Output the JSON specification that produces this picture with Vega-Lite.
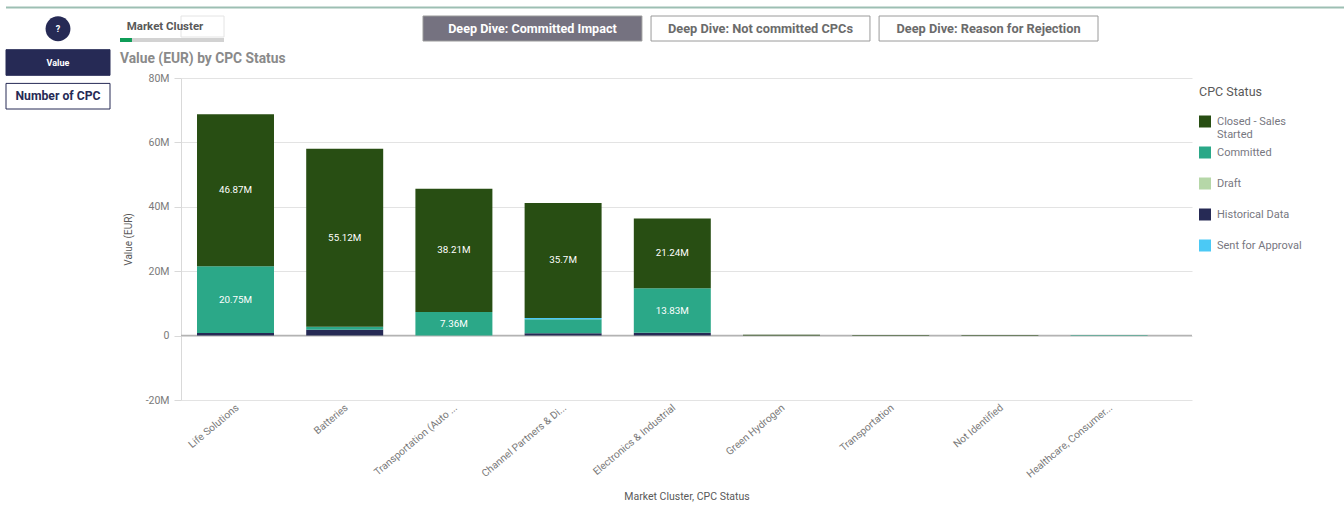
{
 "$schema":"https://vega.github.io/schema/vega-lite/v6.json",
 "background":"white",
 "padding":{"left":5,"top":6,"right":0,"bottom":0},
 "config":{"view":{"stroke":null},"font":"Roboto"},
 "spacing":6,
 "datasets":{
  "bars":[
   {"cluster":"Life Solutions","status":"Historical Data","rank":1,"value":800000},
   {"cluster":"Life Solutions","status":"Committed","rank":2,"value":20750000,"label":"20.75M"},
   {"cluster":"Life Solutions","status":"Closed - Sales Started","rank":5,"value":47200000,"label":"46.87M"},
   {"cluster":"Batteries","status":"Historical Data","rank":1,"value":1800000},
   {"cluster":"Batteries","status":"Committed","rank":2,"value":950000},
   {"cluster":"Batteries","status":"Closed - Sales Started","rank":5,"value":55300000,"label":"55.12M"},
   {"cluster":"Transportation (Auto ...","status":"Committed","rank":2,"value":7360000,"label":"7.36M"},
   {"cluster":"Transportation (Auto ...","status":"Closed - Sales Started","rank":5,"value":38210000,"label":"38.21M"},
   {"cluster":"Channel Partners & Di...","status":"Historical Data","rank":1,"value":700000},
   {"cluster":"Channel Partners & Di...","status":"Committed","rank":2,"value":4400000},
   {"cluster":"Channel Partners & Di...","status":"Sent for Approval","rank":3,"value":400000},
   {"cluster":"Channel Partners & Di...","status":"Closed - Sales Started","rank":5,"value":35700000,"label":"35.7M"},
   {"cluster":"Electronics & Industrial","status":"Historical Data","rank":1,"value":850000},
   {"cluster":"Electronics & Industrial","status":"Committed","rank":2,"value":13830000,"label":"13.83M"},
   {"cluster":"Electronics & Industrial","status":"Closed - Sales Started","rank":5,"value":21700000,"label":"21.24M"},
   {"cluster":"Green Hydrogen","status":"Closed - Sales Started","rank":5,"value":250000},
   {"cluster":"Transportation","status":"Closed - Sales Started","rank":5,"value":200000},
   {"cluster":"Not Identified","status":"Closed - Sales Started","rank":5,"value":150000},
   {"cluster":"Healthcare, Consumer...","status":"Committed","rank":2,"value":150000}
  ]
 },
 "vconcat":[
  {"width":1339,"height":1,"data":{"values":[{"line":0}]},
   "mark":{"type":"rule","stroke":"#9dbfb3","strokeWidth":2},
   "encoding":{"y":{"field":"line","type":"quantitative","axis":null}}},
  {"spacing":9,"hconcat":[
    {"width":104,"height":93,
     "data":{"values":[{"item":"?"},{"item":"Value"},{"item":"Number of CPC"}]},
     "layer":[
      {"transform":[{"filter":"datum.item=='Value'"}],
       "mark":{"type":"rect","stroke":"#262a55","fill":"#262a55"},
       "encoding":{"y":{"field":"item","type":"nominal","axis":null,"scale":{"domain":["?","Value","Number of CPC"],"paddingInner":0.24,"paddingOuter":0}}}},
      {"transform":[{"filter":"datum.item=='Number of CPC'"}],
       "mark":{"type":"rect","stroke":"#262a55","fill":"#ffffff"},
       "encoding":{"y":{"field":"item","type":"nominal","axis":null}}},
      {"transform":[{"filter":"datum.item=='?'"}],
       "mark":{"type":"point","filled":true,"shape":"circle","size":620,"color":"#262a55","opacity":1},
       "encoding":{"y":{"field":"item","type":"nominal","axis":null}}},
      {"transform":[{"filter":"datum.item!='Number of CPC'"}],
       "mark":{"type":"text","fontSize":9,"fontWeight":"bold","color":"#ffffff"},
       "encoding":{"y":{"field":"item","type":"nominal","axis":null},"text":{"field":"item"}}},
      {"transform":[{"filter":"datum.item=='Number of CPC'"}],
       "mark":{"type":"text","fontSize":12.2,"fontWeight":"bold","color":"#262a55"},
       "encoding":{"y":{"field":"item","type":"nominal","axis":null},"text":{"field":"item"}}}
     ]},
    {"spacing":10,"vconcat":[
      {"spacing":137,"hconcat":[
        {"spacing":0,"vconcat":[
          {"width":104,"height":21,
           "data":{"values":[{"name":"Market Cluster"}]},
           "layer":[
            {"mark":{"type":"rect","fill":"#ffffff","stroke":"#e4e4e4","xOffset":-61,"x2Offset":-61},
             "encoding":{"y":{"field":"name","type":"nominal","axis":null,"scale":{"paddingInner":0,"paddingOuter":0}}}},
            {"mark":{"type":"text","fontSize":11.5,"fontWeight":"bold","color":"#595959","xOffset":-68},
             "encoding":{"text":{"field":"name"}}}
           ]},
          {"width":104,"height":4,
           "data":{"values":[{"name":"Market Cluster","all":1,"selected":0.115}]},
           "layer":[
            {"mark":{"type":"bar","fill":"#d2d2d2","xOffset":-61,"x2Offset":-61},
             "encoding":{"x":{"field":"all","type":"quantitative","axis":null,"scale":{"domain":[0,1]}},
              "y":{"field":"name","type":"nominal","axis":null,"scale":{"paddingInner":0,"paddingOuter":0}}}},
            {"mark":{"type":"bar","fill":"#0f9d58","xOffset":-61,"x2Offset":-61},
             "encoding":{"x":{"field":"selected","type":"quantitative","axis":null},
              "y":{"field":"name","type":"nominal","axis":null}}}
           ]}
        ]},
        {"width":675,"height":25,
         "data":{"values":[{"name":"Deep Dive: Committed Impact","active":"yes"},{"name":"Deep Dive: Not committed CPCs","active":"no"},{"name":"Deep Dive: Reason for Rejection","active":"no"}]},
         "layer":[
          {"transform":[{"filter":"datum.active=='yes'"}],
           "mark":{"type":"rect","stroke":"#9a9a9a","fill":"#757280"},
           "encoding":{"x":{"field":"name","type":"nominal","axis":null,"scale":{"domain":["Deep Dive: Committed Impact","Deep Dive: Not committed CPCs","Deep Dive: Reason for Rejection"],"paddingInner":0.04,"paddingOuter":0}}}},
          {"transform":[{"filter":"datum.active=='no'"}],
           "mark":{"type":"rect","stroke":"#9a9a9a","fill":"#ffffff"},
           "encoding":{"x":{"field":"name","type":"nominal","axis":null}}},
          {"transform":[{"filter":"datum.active=='yes'"}],
           "mark":{"type":"text","fontSize":12.6,"fontWeight":"bold","color":"#ffffff"},
           "encoding":{"x":{"field":"name","type":"nominal","axis":null},"text":{"field":"name"}}},
          {"transform":[{"filter":"datum.active=='no'"}],
           "mark":{"type":"text","fontSize":12.8,"fontWeight":"bold","color":"#6b6b6b"},
           "encoding":{"x":{"field":"name","type":"nominal","axis":null},"text":{"field":"name"}}}
         ]}
      ]},
      {"width":1011,"height":322,
       "title":{"text":"Value (EUR) by CPC Status","anchor":"start","frame":"group","dx":-61,"fontSize":13.8,"fontWeight":"bold","color":"#8a8a8a","font":"Roboto","offset":7},
       "data":{"name":"bars"},
       "transform":[
        {"stack":"value","groupby":["cluster"],"sort":[{"field":"rank","order":"ascending"}],"as":["v0","v1"]},
        {"calculate":"(datum.v0+datum.v1)/2","as":"mid"}
       ],
       "layer":[
        {"data":{"values":[{"base":0}]},
         "mark":{"type":"rule","stroke":"#b3b3b3","strokeWidth":1.5},
         "encoding":{"y":{"field":"base","type":"quantitative","title":"Value (EUR)"}}},
        {"mark":{"type":"bar"},
         "encoding":{
          "x":{"field":"cluster","type":"nominal","sort":null,"title":"Market Cluster, CPC Status",
           "scale":{"paddingInner":0.295,"paddingOuter":0.2766,"align":0.265},
           "axis":{"labelAngle":-40,"labelAlign":"right","labelBaseline":"middle","labelPadding":6,"labelOffset":2,"labelColor":"#7a7a7a","labelFontSize":10.2,"labelLimit":200,"ticks":false,"domain":false,"grid":false,"titleFontSize":10.5,"titleFontWeight":"normal","titleColor":"#595959","titleY":91}},
          "y":{"field":"v0","type":"quantitative","title":"Value (EUR)",
           "scale":{"domain":[-20000000,80000000],"nice":false,"zero":false},
           "axis":{"values":[-20000000,0,20000000,40000000,60000000,80000000],"labelExpr":"datum.value==0?'0':(datum.value/1000000)+'M'","labelColor":"#7a7a7a","labelFontSize":10.5,"gridColor":"#e3e3e3","tickColor":"#d9d9d9","tickSize":7,"domainColor":"#d9d9d9","labelPadding":5,"titleFontSize":10,"titleFontWeight":"normal","titleColor":"#595959","titlePadding":12}},
          "y2":{"field":"v1"},
          "color":{"field":"status","type":"nominal",
           "scale":{"domain":["Closed - Sales Started","Committed","Draft","Historical Data","Sent for Approval"],"range":["#284e13","#2ba888","#b6d7a8","#262a55","#4bc9f5"]},
           "legend":{"title":"CPC Status","orient":"none","legendX":1193,"legendY":79,"gridAlign":"all","titleFontSize":12.5,"titleFontWeight":"normal","titleColor":"#595959","labelFontSize":11,"labelColor":"#77777f","symbolType":"square","symbolSize":144,"symbolStrokeWidth":0,"rowPadding":7,"titlePadding":17,"labelOffset":6,"labelExpr":"datum.label=='Closed - Sales Started'?['Closed - Sales','Started']:datum.label",
            "encoding":{"symbols":{"update":{"y":{"value":13}}},"labels":{"update":{"y":{"value":13}}}}}}
         }},
        {"transform":[{"filter":"isValid(datum.label)"}],
         "mark":{"type":"text","color":"#ffffff","fontSize":9.8},
         "encoding":{"x":{"field":"cluster","type":"nominal","sort":null},
          "y":{"field":"mid","type":"quantitative"},
          "text":{"field":"label"}}}
       ]}
    ]}
  ]}
 ]
}
